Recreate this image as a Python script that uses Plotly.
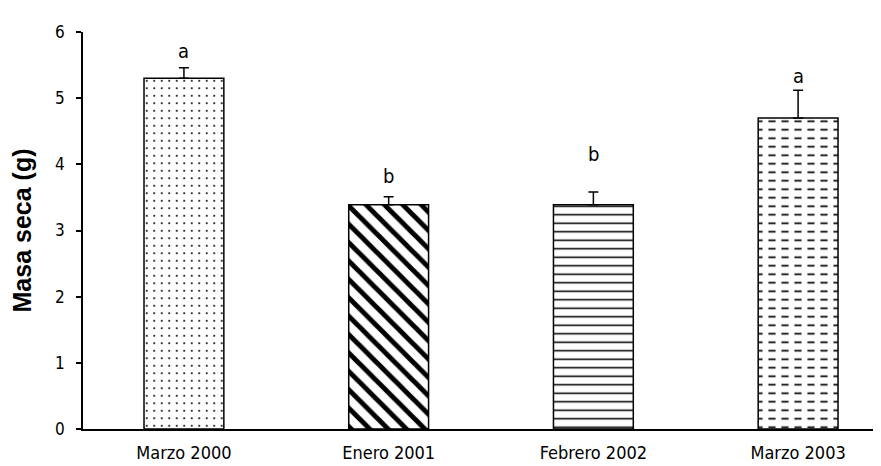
import plotly.graph_objects as go

categories = ["Marzo 2000", "Enero 2001", "Febrero 2002", "Marzo 2003"]
values = [5.30, 3.39, 3.39, 4.70]
errors_up = [0.16, 0.12, 0.19, 0.42]
letters = ["a", "b", "b", "a"]
letter_y = [5.71, 3.82, 4.16, 5.33]

xs = list(range(len(categories)))
bw = 0.39
NARROW = "DejaVu Sans Condensed, Liberation Sans Narrow, Liberation Sans, Arial"

fig = go.Figure()

# patterned fills
fig.add_trace(go.Bar(
    x=xs, y=values, width=bw,
    marker=dict(
        color="white",
        line=dict(width=0),
        pattern=dict(
            shape=[".", "\\", "-", "-"],
            fgcolor="black",
            bgcolor="white",
            fgopacity=1,
            size=[7.5, 13, 8.5, 8.5],
            solidity=[0.06, 0.38, 0.18, 0.2],
            fillmode="overlay",
        ),
    ),
    hoverinfo="skip", showlegend=False,
))

# white vertical cuts to turn the horizontal lines of the last bar into dashes
fig.add_trace(go.Bar(
    x=xs, y=values, width=bw,
    marker=dict(
        color="rgba(0,0,0,0)",
        line=dict(width=0),
        pattern=dict(
            shape=["", "", "", "|"],
            fgcolor="white",
            bgcolor="rgba(0,0,0,0)",
            fgopacity=1,
            size=13,
            solidity=0.45,
            fillmode="overlay",
        ),
    ),
    hoverinfo="skip", showlegend=False,
))

# outlines + error bars
fig.add_trace(go.Bar(
    x=xs, y=values, width=bw,
    marker=dict(color="rgba(0,0,0,0)", line=dict(color="black", width=1.5)),
    error_y=dict(type="data", symmetric=False, array=errors_up,
                 arrayminus=[0] * len(values), color="black",
                 thickness=1.5, width=5),
    hoverinfo="skip", showlegend=False,
))

for x, ly, t in zip(xs, letter_y, letters):
    fig.add_annotation(x=x, y=ly, text=t, showarrow=False,
                       font=dict(family=NARROW, size=20, color="black"))

fig.update_layout(
    width=881, height=466,
    margin=dict(l=75, r=0, t=24, b=45),
    paper_bgcolor="white", plot_bgcolor="white",
    barmode="overlay",
    font=dict(family=NARROW, color="black", size=18),
    xaxis=dict(
        range=[-0.493, 3.444],
        tickvals=xs, ticktext=categories,
        showline=True, linecolor="black", linewidth=1.5,
        ticks="", showgrid=False, zeroline=False,
        ticklabelstandoff=7,
        tickfont=dict(size=18),
    ),
    yaxis=dict(
        range=[0, 6], dtick=1,
        showline=True, linecolor="black", linewidth=1.5,
        ticks="outside", ticklen=5, tickwidth=1.5, tickcolor="black",
        showgrid=False, zeroline=False,
        ticklabelstandoff=8,
        tickfont=dict(size=17),
        title=dict(text="<b>Masa seca (g)</b>",
                   font=dict(family="Liberation Sans, Arial", size=25),
                   standoff=16),
    ),
)

fig.write_html("out.html")
